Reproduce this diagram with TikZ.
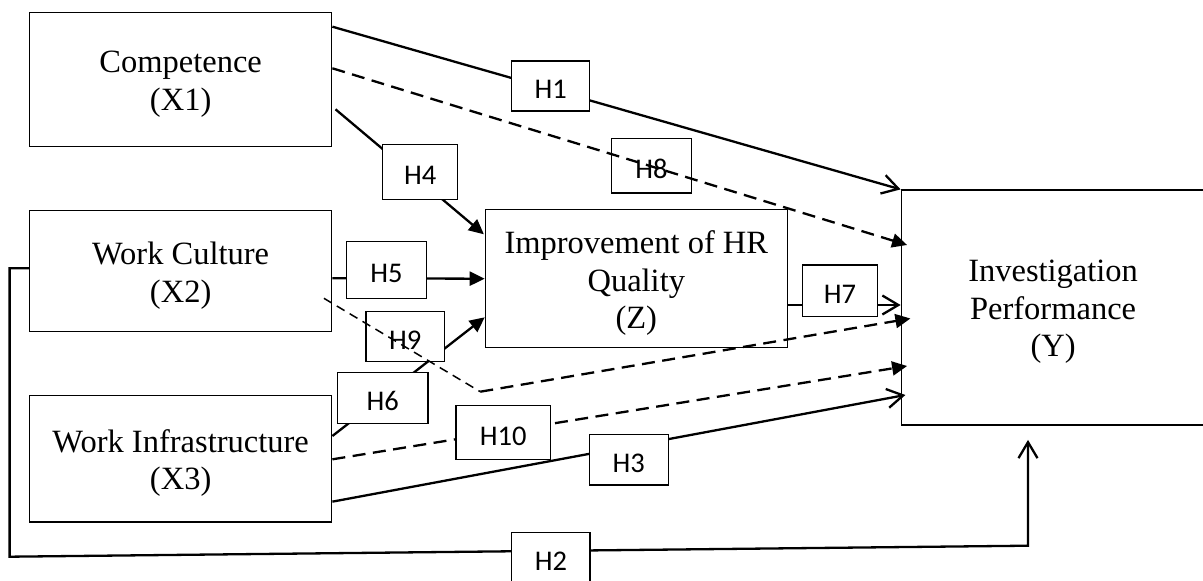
\documentclass[tikz,border=0pt]{standalone}
\usepackage{fontspec}
\setmainfont{Liberation Serif}
\newfontfamily\lblfont{Carlito}
\usetikzlibrary{arrows.meta,calc,backgrounds}

\begin{document}
\begin{tikzpicture}[x=1pt,y=-1pt,
  var/.style={draw, line width=1.2pt, inner sep=0pt},
  vartext/.style={inner sep=0pt, align=center, font=\fontsize{32.5}{37.5}\selectfont},
  hyp/.style={draw, line width=1.2pt, fill=white, inner sep=0pt,
              font=\lblfont\fontsize{28.5}{33}\selectfont, text height=25pt, text depth=0pt},
  link/.style={line width=2.3pt, line join=miter},
  dlink/.style={line width=2.3pt, dash pattern=on 13pt off 7.5pt},
  thindlink/.style={line width=1.5pt, dash pattern=on 9pt off 6pt},
  openhead/.style={-{Straight Barb[length=16pt,width=19pt]}},
  solidhead/.style={-{Triangle[length=15pt,width=14pt]}}
]
\useasboundingbox (0,0) rectangle (1203,581);

% variable boxes
\node[var, minimum width=302.3pt, minimum height=134.4pt] (X1) at (180.65,79.5) {};
\node[var, minimum width=302.3pt, minimum height=121.4pt] (X2) at (180.65,271) {};
\node[var, minimum width=302.3pt, minimum height=126.7pt] (X3) at (180.65,458.65) {};
\node[var, minimum width=302pt, minimum height=138pt] (Z) at (636.3,278.7) {};
\node[var, minimum width=303.8pt, minimum height=235pt] (Y) at (1053.1,307.5) {};

% variable names
\node[vartext] (X1t) at ($(X1)+(0,4.5)$) {Competence\\(X1)};
\node[vartext] (X2t) at ($(X2)+(0,4.5)$) {Work Culture\\(X2)};
\node[vartext] (X3t) at ($(X3)+(0,4.5)$) {Work Infrastructure\\(X3)};
\node[vartext] (Zt) at ($(Z)+(0,4.5)$) {Improvement of HR\\Quality\\(Z)};
\node[vartext] (Yt) at ($(Y)+(0,4.5)$) {Investigation\\Performance\\(Y)};

% hypothesis labels
\node[hyp, minimum width=78pt, minimum height=50pt] (H1) at (550.7,86) {H1};
\node[hyp, minimum width=75pt, minimum height=54.6pt] (H4) at (420.2,172) {H4};
\node[hyp, minimum width=80pt, minimum height=57pt] (H5) at (386.5,270.2) {H5};
\node[hyp, minimum width=80pt, minimum height=54.3pt] (H8) at (651.5,165.8) {H8};
\node[hyp, minimum width=78.3pt, minimum height=50.4pt] (H9) at (405.2,336.5) {H9};
\node[hyp, minimum width=90.3pt, minimum height=50.6pt] (H6) at (382.8,398) {H6};
\node[hyp, minimum width=94.7pt, minimum height=53.6pt] (H10) at (503.3,432.5) {H10};
\node[hyp, minimum width=79pt, minimum height=50.7pt] (H3) at (628.8,459.7) {H3};
\node[hyp, minimum width=78.3pt, minimum height=50.4pt] (H2) at (550.85,557.9) {H2};
\node[hyp, minimum width=75.4pt, minimum height=51.7pt] (H7) at (840,290.8) {H7};

\coordinate (h9bend) at (480.3,391.7);
\coordinate (h2a) at (9.6,268.3);
\coordinate (h2b) at (9.6,556.7);
\coordinate (h2c) at (1028,545.7);

% paths running behind the label boxes
\begin{scope}[on background layer]
  \draw[link, openhead] ($(X1.east)+(0,-52.8)$) -- (Y.north west);
  \draw[link, solidhead] ($(X1.east)+(3.1,29.8)$) -- ($(Z.west)+(-0.8,-44.4)$);
  \draw[link, solidhead] ($(X2.east)+(0,7.3)$) -- (Z.west);
  \draw[link, solidhead] ($(X3.east)+(0,-22.65)$) -- ($(Z.west)+(0,38.6)$);
  \draw[link, openhead] ($(Z.east)+(0,26.3)$) -- ($(Y.west)+(0,-2.5)$);
  \draw[dlink, solidhead] ($(X3.east)+(0,0.65)$) -- ($(Y.west)+(6.5,58.5)$);
  \draw[link, openhead] ($(X3.east)+(0,43)$) -- ($(Y.west)+(4.8,87.5)$);
  \draw[link, openhead] ($(X2.west)+(0,-2.7)$) -- (h2a) -- (h2b) -- (h2c) -- ($(Y.south)+(-25.1,14.3)$);
\end{scope}

% dashed paths drawn over their labels
\draw[dlink, solidhead] ($(X1.east)+(0,-11.2)$) -- ($(Y.west)+(6.5,-62.5)$);
\draw[thindlink] ($(X2.east)+(-8.5,27.3)$) -- (h9bend);
\draw[dlink, solidhead] (h9bend) -- ($(Y.west)+(9.8,11)$);
\end{tikzpicture}
\end{document}
